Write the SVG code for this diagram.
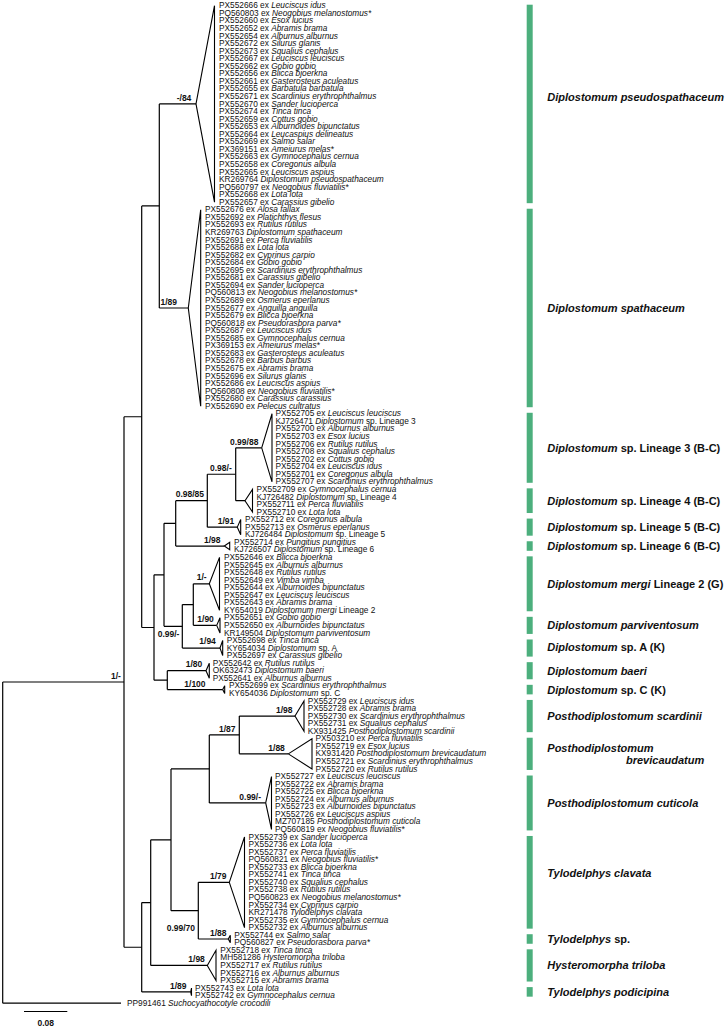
<svg xmlns="http://www.w3.org/2000/svg" width="726" height="1028" viewBox="0 0 726 1028">
<style>
.br{fill:none;stroke:#000;stroke-width:1.2}
.tri{fill:#fff;stroke:#000;stroke-width:1.1}
.t{font-family:"Liberation Sans",Arial,sans-serif;font-size:8.3px;fill:#111}
.i{font-style:italic}
.s{font-family:"Liberation Sans",Arial,sans-serif;font-size:8.5px;font-weight:bold;fill:#111}
.c{font-family:"Liberation Sans",Arial,sans-serif;font-size:11px;font-weight:bold;fill:#111}
.bar{fill:#4caf7d}
</style>
<rect width="726" height="1028" fill="#fff"/>
<g id="connectors" class="br">
<path d="M2.7 682V1003.22M2.7 682H124M2.7 1003.22H121"/>
<path d="M124 416.73V947.26M124 416.73H141.7M124 947.26H141.7"/>
<path d="M141.7 205.96V627.5M141.7 205.96H159.3M141.7 627.5H154"/>
<path d="M159.3 103.94V307.98M159.3 103.94H196M159.3 307.98H188.3"/>
<path d="M154 574.84V680.16M154 574.84H164M154 680.16H167.3"/>
<path d="M164 523.36V626.32M164 523.36H175.7M164 626.32H182.3"/>
<path d="M175.7 500.68V546.03M175.7 500.68H207.3M175.7 546.03H224.3"/>
<path d="M207.3 474.23V527.13M207.3 474.23H235.7M207.3 527.13H237.3"/>
<path d="M235.7 447.79V500.68M235.7 447.79H261.7M235.7 500.68H245"/>
<path d="M182.3 604.59V648.05M182.3 604.59H193.3M182.3 648.05H220"/>
<path d="M193.3 583.81V625.37M193.3 583.81H209.3M193.3 625.37H216.7"/>
<path d="M167.3 670.71V689.61M167.3 670.71H206M167.3 689.61H222.7"/>
<path d="M141.7 902.62V991.89M141.7 902.62H150.7M141.7 991.89H190.7"/>
<path d="M150.7 839.81V965.44M150.7 839.81H171M150.7 965.44H207.3"/>
<path d="M171 768.96V910.65M171 768.96H209.3M171 910.65H198.3"/>
<path d="M209.3 734.95V802.96M209.3 734.95H239.3M209.3 802.96H265.7"/>
<path d="M239.3 716.06V753.84M239.3 716.06H295M239.3 753.84H288.3"/>
<path d="M198.3 882.31V938.99M198.3 882.31H229.3M198.3 938.99H228.3"/>
</g>
<g id="support-values" class="s">
<text x="176.7" y="100.5">-/84</text>
<text x="160.5" y="304.5">1/89</text>
<text x="230" y="444.5">0.99/88</text>
<text x="210" y="470.5">0.98/-</text>
<text x="175.7" y="497">0.98/85</text>
<text x="217.7" y="523.5">1/91</text>
<text x="204" y="542.5">1/98</text>
<text x="196.7" y="580">1/-</text>
<text x="197.3" y="621.5">1/90</text>
<text x="199.3" y="644">1/94</text>
<text x="157.7" y="637">0.99/-</text>
<text x="185.7" y="667">1/80</text>
<text x="184.3" y="686.5">1/100</text>
<text x="111" y="678.5">1/-</text>
<text x="219" y="731.5">1/87</text>
<text x="276" y="712.5">1/98</text>
<text x="268.3" y="750.5">1/88</text>
<text x="239.3" y="799.5">0.99/-</text>
<text x="210" y="878.5">1/79</text>
<text x="166.7" y="931">0.99/70</text>
<text x="210" y="936">1/88</text>
<text x="188.3" y="962">1/98</text>
<text x="170" y="988.5">1/89</text>
</g>
<g id="clade-pseudospathaceum">
<polygon class="tri" points="196,103.94 214.5,5.7 214.5,202.18"/>
<g class="t">
<text x="219" y="8.30">PX552666 ex <tspan class="i">Leuciscus idus</tspan></text>
<text x="219" y="15.86">PQ560803 ex <tspan class="i">Neogobius melanostomus*</tspan></text>
<text x="219" y="23.41">PX552660 ex <tspan class="i">Esox lucius</tspan></text>
<text x="219" y="30.97">PX552652 ex <tspan class="i">Abramis brama</tspan></text>
<text x="219" y="38.53">PX552654 ex <tspan class="i">Alburnus alburnus</tspan></text>
<text x="219" y="46.09">PX552672 ex <tspan class="i">Silurus glanis</tspan></text>
<text x="219" y="53.64">PX552673 ex <tspan class="i">Squalius cephalus</tspan></text>
<text x="219" y="61.20">PX552667 ex <tspan class="i">Leuciscus leuciscus</tspan></text>
<text x="219" y="68.76">PX552662 ex <tspan class="i">Gobio gobio</tspan></text>
<text x="219" y="76.31">PX552656 ex <tspan class="i">Blicca bjoerkna</tspan></text>
<text x="219" y="83.87">PX552661 ex <tspan class="i">Gasterosteus aculeatus</tspan></text>
<text x="219" y="91.43">PX552655 ex <tspan class="i">Barbatula barbatula</tspan></text>
<text x="219" y="98.98">PX552671 ex <tspan class="i">Scardinius erythrophthalmus</tspan></text>
<text x="219" y="106.54">PX552670 ex <tspan class="i">Sander lucioperca</tspan></text>
<text x="219" y="114.10">PX552674 ex <tspan class="i">Tinca tinca</tspan></text>
<text x="219" y="121.66">PX552659 ex <tspan class="i">Cottus gobio</tspan></text>
<text x="219" y="129.21">PX552653 ex <tspan class="i">Alburnoides bipunctatus</tspan></text>
<text x="219" y="136.77">PX552664 ex <tspan class="i">Leucaspius delineatus</tspan></text>
<text x="219" y="144.33">PX552669 ex <tspan class="i">Salmo salar</tspan></text>
<text x="219" y="151.88">PX369151 ex <tspan class="i">Ameiurus melas*</tspan></text>
<text x="219" y="159.44">PX552663 ex <tspan class="i">Gymnocephalus cernua</tspan></text>
<text x="219" y="167.00">PX552658 ex <tspan class="i">Coregonus albula</tspan></text>
<text x="219" y="174.55">PX552665 ex <tspan class="i">Leuciscus aspius</tspan></text>
<text x="219" y="182.11">KR269764 <tspan class="i">Diplostomum pseudospathaceum</tspan></text>
<text x="219" y="189.67">PQ560797 ex <tspan class="i">Neogobius fluviatilis*</tspan></text>
<text x="219" y="197.23">PX552668 ex <tspan class="i">Lota lota</tspan></text>
<text x="219" y="204.78">PX552657 ex <tspan class="i">Carassius gibelio</tspan></text>
</g>
<rect class="bar" x="526.7" y="4.7" width="6" height="198.48"/>
<text class="c" x="547.3" y="101"><tspan class="i">Diplostomum pseudospathaceum</tspan></text>
</g>
<g id="clade-spathaceum">
<polygon class="tri" points="188.3,307.98 200.7,209.74 200.7,406.22"/>
<g class="t">
<text x="205" y="212.34">PX552676 ex <tspan class="i">Alosa fallax</tspan></text>
<text x="205" y="219.90">PX552692 ex <tspan class="i">Platichthys flesus</tspan></text>
<text x="205" y="227.45">PX552693 ex <tspan class="i">Rutilus rutilus</tspan></text>
<text x="205" y="235.01">KR269763 <tspan class="i">Diplostomum spathaceum</tspan></text>
<text x="205" y="242.57">PX552691 ex <tspan class="i">Perca fluviatilis</tspan></text>
<text x="205" y="250.12">PX552688 ex <tspan class="i">Lota lota</tspan></text>
<text x="205" y="257.68">PX552682 ex <tspan class="i">Cyprinus carpio</tspan></text>
<text x="205" y="265.24">PX552684 ex <tspan class="i">Gobio gobio</tspan></text>
<text x="205" y="272.80">PX552695 ex <tspan class="i">Scardinius erythrophthalmus</tspan></text>
<text x="205" y="280.35">PX552681 ex <tspan class="i">Carassius gibelio</tspan></text>
<text x="205" y="287.91">PX552694 ex <tspan class="i">Sander lucioperca</tspan></text>
<text x="205" y="295.47">PQ560813 ex <tspan class="i">Neogobius melanostomus*</tspan></text>
<text x="205" y="303.02">PX552689 ex <tspan class="i">Osmerus eperlanus</tspan></text>
<text x="205" y="310.58">PX552677 ex <tspan class="i">Anguilla anguilla</tspan></text>
<text x="205" y="318.14">PX552679 ex <tspan class="i">Blicca bjoerkna</tspan></text>
<text x="205" y="325.69">PQ560818 ex <tspan class="i">Pseudorasbora parva*</tspan></text>
<text x="205" y="333.25">PX552687 ex <tspan class="i">Leuciscus idus</tspan></text>
<text x="205" y="340.81">PX552685 ex <tspan class="i">Gymnocephalus cernua</tspan></text>
<text x="205" y="348.37">PX369153 ex <tspan class="i">Ameiurus melas*</tspan></text>
<text x="205" y="355.92">PX552683 ex <tspan class="i">Gasterosteus aculeatus</tspan></text>
<text x="205" y="363.48">PX552678 ex <tspan class="i">Barbus barbus</tspan></text>
<text x="205" y="371.04">PX552675 ex <tspan class="i">Abramis brama</tspan></text>
<text x="205" y="378.59">PX552696 ex <tspan class="i">Silurus glanis</tspan></text>
<text x="205" y="386.15">PX552686 ex <tspan class="i">Leuciscus aspius</tspan></text>
<text x="205" y="393.71">PQ560808 ex <tspan class="i">Neogobius fluviatilis*</tspan></text>
<text x="205" y="401.26">PX552680 ex <tspan class="i">Carassius carassius</tspan></text>
<text x="205" y="408.82">PX552690 ex <tspan class="i">Pelecus cultratus</tspan></text>
</g>
<rect class="bar" x="526.7" y="208.74" width="6" height="198.48"/>
<text class="c" x="547.3" y="312"><tspan class="i">Diplostomum spathaceum</tspan></text>
</g>
<g id="clade-lineage3">
<polygon class="tri" points="261.7,447.79 272,413.78 272,481.79"/>
<g class="t">
<text x="275.5" y="416.38">PX552705 ex <tspan class="i">Leuciscus leuciscus</tspan></text>
<text x="275.5" y="423.94">KJ726471 <tspan class="i">Diplostomum</tspan> sp. Lineage 3</text>
<text x="275.5" y="431.49">PX552700 ex <tspan class="i">Alburnus alburnus</tspan></text>
<text x="275.5" y="439.05">PX552703 ex <tspan class="i">Esox lucius</tspan></text>
<text x="275.5" y="446.61">PX552706 ex <tspan class="i">Rutilus rutilus</tspan></text>
<text x="275.5" y="454.16">PX552708 ex <tspan class="i">Squalius cephalus</tspan></text>
<text x="275.5" y="461.72">PX552702 ex <tspan class="i">Cottus gobio</tspan></text>
<text x="275.5" y="469.28">PX552704 ex <tspan class="i">Leuciscus idus</tspan></text>
<text x="275.5" y="476.83">PX552701 ex <tspan class="i">Coregonus albula</tspan></text>
<text x="275.5" y="484.39">PX552707 ex <tspan class="i">Scardinius erythrophthalmus</tspan></text>
</g>
<rect class="bar" x="526.7" y="412.78" width="6" height="70.01"/>
<text class="c" x="547.3" y="451.8"><tspan class="i">Diplostomum</tspan> sp. Lineage 3 (B-C)</text>
</g>
<g id="clade-lineage4">
<polygon class="tri" points="245,500.68 252.5,489.34 252.5,512.02"/>
<g class="t">
<text x="256.5" y="491.95">PX552709 ex <tspan class="i">Gymnocephalus cernua</tspan></text>
<text x="256.5" y="499.51">KJ726482 <tspan class="i">Diplostomum</tspan> sp. Lineage 4</text>
<text x="256.5" y="507.06">PX552711 ex <tspan class="i">Perca fluviatilis</tspan></text>
<text x="256.5" y="514.62">PX552710 ex <tspan class="i">Lota lota</tspan></text>
</g>
<rect class="bar" x="526.7" y="488.34" width="6" height="24.68"/>
<text class="c" x="547.3" y="504.7"><tspan class="i">Diplostomum</tspan> sp. Lineage 4 (B-C)</text>
</g>
<g id="clade-lineage5">
<polygon class="tri" points="237.3,527.13 240.7,519.58 240.7,534.69"/>
<g class="t">
<text x="245" y="522.18">PX552712 ex <tspan class="i">Coregonus albula</tspan></text>
<text x="245" y="529.73">PX552713 ex <tspan class="i">Osmerus eperlanus</tspan></text>
<text x="245" y="537.29">KJ726484 <tspan class="i">Diplostomum</tspan> sp. Lineage 5</text>
</g>
<rect class="bar" x="526.7" y="518.58" width="6" height="17.11"/>
<text class="c" x="547.3" y="531.1"><tspan class="i">Diplostomum</tspan> sp. Lineage 5 (B-C)</text>
</g>
<g id="clade-lineage6">
<polygon class="tri" points="224.3,546.03 229.7,542.25 229.7,549.81"/>
<g class="t">
<text x="234" y="544.85">PX552714 ex <tspan class="i">Pungitius pungitius</tspan></text>
<text x="234" y="552.40">KJ726507 <tspan class="i">Diplostomum</tspan> sp. Lineage 6</text>
</g>
<rect class="bar" x="526.7" y="541.25" width="6" height="9.56"/>
<text class="c" x="547.3" y="550"><tspan class="i">Diplostomum</tspan> sp. Lineage 6 (B-C)</text>
</g>
<g id="clade-mergi">
<polygon class="tri" points="209.3,583.81 219.5,557.36 219.5,610.26"/>
<g class="t">
<text x="224" y="559.96">PX552646 ex <tspan class="i">Blicca bjoerkna</tspan></text>
<text x="224" y="567.52">PX552645 ex <tspan class="i">Alburnus alburnus</tspan></text>
<text x="224" y="575.08">PX552648 ex <tspan class="i">Rutilus rutilus</tspan></text>
<text x="224" y="582.63">PX552649 ex <tspan class="i">Vimba vimba</tspan></text>
<text x="224" y="590.19">PX552644 ex <tspan class="i">Alburnoides bipunctatus</tspan></text>
<text x="224" y="597.75">PX552647 ex <tspan class="i">Leuciscus leuciscus</tspan></text>
<text x="224" y="605.30">PX552643 ex <tspan class="i">Abramis brama</tspan></text>
<text x="224" y="612.86">KY654019 <tspan class="i">Diplostomum mergi</tspan> Lineage 2</text>
</g>
<rect class="bar" x="526.7" y="556.36" width="6" height="54.9"/>
<text class="c" x="547.3" y="587.8"><tspan class="i">Diplostomum mergi</tspan> Lineage 2 (G)</text>
</g>
<g id="clade-parviventosum">
<polygon class="tri" points="216.7,625.37 220,617.82 220,632.93"/>
<g class="t">
<text x="224" y="620.42">PX552651 ex <tspan class="i">Gobio gobio</tspan></text>
<text x="224" y="627.97">PX552650 ex <tspan class="i">Alburnoides bipunctatus</tspan></text>
<text x="224" y="635.53">KR149504 <tspan class="i">Diplostomum parviventosum</tspan></text>
</g>
<rect class="bar" x="526.7" y="616.82" width="6" height="17.11"/>
<text class="c" x="547.3" y="629.4"><tspan class="i">Diplostomum parviventosum</tspan></text>
</g>
<g id="clade-spA">
<polygon class="tri" points="220,648.05 222.7,640.49 222.7,655.6"/>
<g class="t">
<text x="226.7" y="643.09">PX552698 ex <tspan class="i">Tinca tinca</tspan></text>
<text x="226.7" y="650.65">KY654034 <tspan class="i">Diplostomum</tspan> sp. A</text>
<text x="226.7" y="658.20">PX552697 ex <tspan class="i">Carassius gibelio</tspan></text>
</g>
<rect class="bar" x="526.7" y="639.49" width="6" height="17.11"/>
<text class="c" x="547.3" y="651"><tspan class="i">Diplostomum</tspan> sp. A (K)</text>
</g>
<g id="clade-baeri">
<polygon class="tri" points="206,670.71 209.3,663.16 209.3,678.27"/>
<g class="t">
<text x="212.7" y="665.76">PX552642 ex <tspan class="i">Rutilus rutilus</tspan></text>
<text x="212.7" y="673.32">OK632473 <tspan class="i">Diplostomum baeri</tspan></text>
<text x="212.7" y="680.87">PX552641 ex <tspan class="i">Alburnus alburnus</tspan></text>
</g>
<rect class="bar" x="526.7" y="662.16" width="6" height="17.11"/>
<text class="c" x="547.3" y="674.5"><tspan class="i">Diplostomum baeri</tspan></text>
</g>
<g id="clade-spC">
<polygon class="tri" points="222.7,689.61 224.7,685.83 224.7,693.38"/>
<g class="t">
<text x="229" y="688.43">PX552699 ex <tspan class="i">Scardinius erythrophthalmus</tspan></text>
<text x="229" y="695.99">KY654036 <tspan class="i">Diplostomum</tspan> sp. C</text>
</g>
<rect class="bar" x="526.7" y="684.83" width="6" height="9.55"/>
<text class="c" x="547.3" y="693.5"><tspan class="i">Diplostomum</tspan> sp. C (K)</text>
</g>
<g id="clade-scardinii">
<polygon class="tri" points="295,716.06 304,700.94 304,731.17"/>
<g class="t">
<text x="307.7" y="703.54">PX552729 ex <tspan class="i">Leuciscus idus</tspan></text>
<text x="307.7" y="711.10">PX552728 ex <tspan class="i">Abramis brama</tspan></text>
<text x="307.7" y="718.66">PX552730 ex <tspan class="i">Scardinius erythrophthalmus</tspan></text>
<text x="307.7" y="726.22">PX552731 ex <tspan class="i">Squalius cephalus</tspan></text>
<text x="307.7" y="733.77">KX931425 <tspan class="i">Posthodiplostomum scardinii</tspan></text>
</g>
<rect class="bar" x="526.7" y="699.94" width="6" height="32.23"/>
<text class="c" x="547.3" y="720"><tspan class="i">Posthodiplostomum scardinii</tspan></text>
</g>
<g id="clade-brevicaudatum">
<polygon class="tri" points="288.3,753.84 312,738.73 312,768.96"/>
<g class="t">
<text x="315.5" y="741.33">PX503210 ex <tspan class="i">Perca fluviatilis</tspan></text>
<text x="315.5" y="748.89">PX552719 ex <tspan class="i">Esox lucius</tspan></text>
<text x="315.5" y="756.44">KX931420 <tspan class="i">Posthodiplostomum brevicaudatum</tspan></text>
<text x="315.5" y="764.00">PX552721 ex <tspan class="i">Scardinius erythrophthalmus</tspan></text>
<text x="315.5" y="771.56">PX552720 ex <tspan class="i">Rutilus rutilus</tspan></text>
</g>
<rect class="bar" x="526.7" y="737.73" width="6" height="32.23"/>
<text class="c i" x="547.3" y="752">Posthodiplostomum</text>
<text class="c i" x="626" y="764">brevicaudatum</text>
</g>
<g id="clade-cuticola">
<polygon class="tri" points="265.7,802.96 271.5,776.51 271.5,829.41"/>
<g class="t">
<text x="275" y="779.11">PX552727 ex <tspan class="i">Leuciscus leuciscus</tspan></text>
<text x="275" y="786.67">PX552722 ex <tspan class="i">Abramis brama</tspan></text>
<text x="275" y="794.23">PX552725 ex <tspan class="i">Blicca bjoerkna</tspan></text>
<text x="275" y="801.79">PX552724 ex <tspan class="i">Alburnus alburnus</tspan></text>
<text x="275" y="809.34">PX552723 ex <tspan class="i">Alburnoides bipunctatus</tspan></text>
<text x="275" y="816.90">PX552726 ex <tspan class="i">Leuciscus aspius</tspan></text>
<text x="275" y="824.46">MZ707185 <tspan class="i">Posthodiplostomum cuticola</tspan></text>
<text x="275" y="832.01">PQ560819 ex <tspan class="i">Neogobius fluviatilis*</tspan></text>
</g>
<rect class="bar" x="526.7" y="775.51" width="6" height="54.9"/>
<text class="c" x="547.3" y="807"><tspan class="i">Posthodiplostomum cuticola</tspan></text>
</g>
<g id="clade-clavata">
<polygon class="tri" points="229.3,882.31 244.5,836.97 244.5,927.65"/>
<g class="t">
<text x="248.5" y="839.57">PX552739 ex <tspan class="i">Sander lucioperca</tspan></text>
<text x="248.5" y="847.13">PX552736 ex <tspan class="i">Lota lota</tspan></text>
<text x="248.5" y="854.68">PX552737 ex <tspan class="i">Perca fluviatilis</tspan></text>
<text x="248.5" y="862.24">PQ560821 ex <tspan class="i">Neogobius fluviatilis*</tspan></text>
<text x="248.5" y="869.80">PX552733 ex <tspan class="i">Blicca bjoerkna</tspan></text>
<text x="248.5" y="877.36">PX552741 ex <tspan class="i">Tinca tinca</tspan></text>
<text x="248.5" y="884.91">PX552740 ex <tspan class="i">Squalius cephalus</tspan></text>
<text x="248.5" y="892.47">PX552738 ex <tspan class="i">Rutilus rutilus</tspan></text>
<text x="248.5" y="900.03">PQ560823 ex <tspan class="i">Neogobius melanostomus*</tspan></text>
<text x="248.5" y="907.58">PX552734 ex <tspan class="i">Cyprinus carpio</tspan></text>
<text x="248.5" y="915.14">KR271478 <tspan class="i">Tylodelphys clavata</tspan></text>
<text x="248.5" y="922.70">PX552735 ex <tspan class="i">Gymnocephalus cernua</tspan></text>
<text x="248.5" y="930.25">PX552732 ex <tspan class="i">Alburnus alburnus</tspan></text>
</g>
<rect class="bar" x="526.7" y="835.97" width="6" height="92.68"/>
<text class="c" x="547.3" y="877"><tspan class="i">Tylodelphys clavata</tspan></text>
</g>
<g id="clade-tylodelphys-sp">
<polygon class="tri" points="228.3,938.99 230.3,935.21 230.3,942.77"/>
<g class="t">
<text x="234.3" y="937.81">PX552744 ex <tspan class="i">Salmo salar</tspan></text>
<text x="234.3" y="945.37">PQ560827 ex <tspan class="i">Pseudorasbora parva*</tspan></text>
</g>
<rect class="bar" x="526.7" y="934.21" width="6" height="9.56"/>
<text class="c" x="547.3" y="943"><tspan class="i">Tylodelphys</tspan> sp.</text>
</g>
<g id="clade-hysteromorpha">
<polygon class="tri" points="207.3,965.44 216,950.32 216,980.55"/>
<g class="t">
<text x="220.3" y="952.93">PX552718 ex <tspan class="i">Tinca tinca</tspan></text>
<text x="220.3" y="960.48">MH581286 <tspan class="i">Hysteromorpha triloba</tspan></text>
<text x="220.3" y="968.04">PX552717 ex <tspan class="i">Rutilus rutilus</tspan></text>
<text x="220.3" y="975.60">PX552716 ex <tspan class="i">Alburnus alburnus</tspan></text>
<text x="220.3" y="983.15">PX552715 ex <tspan class="i">Abramis brama</tspan></text>
</g>
<rect class="bar" x="526.7" y="949.32" width="6" height="32.23"/>
<text class="c" x="547.3" y="969.4"><tspan class="i">Hysteromorpha triloba</tspan></text>
</g>
<g id="clade-podicipina">
<polygon class="tri" points="190.7,991.89 191.5,988.11 191.5,995.67"/>
<g class="t">
<text x="195" y="990.71">PX552743 ex <tspan class="i">Lota lota</tspan></text>
<text x="195" y="998.27">PX552742 ex <tspan class="i">Gymnocephalus cernua</tspan></text>
</g>
<rect class="bar" x="526.7" y="987.11" width="6" height="9.56"/>
<text class="c" x="547.3" y="995.9"><tspan class="i">Tylodelphys podicipina</tspan></text>
</g>
<g id="outgroup">
<text class="t" x="127" y="1005.82">PP991461 <tspan class="i">Suchocyathocotyle crocodili</tspan></text>
</g>
<g id="scale-bar">
<path class="br" d="M24 1011.5H67.3"/>
<text class="s" x="45.7" y="1026" text-anchor="middle">0.08</text>
</g>
</svg>
